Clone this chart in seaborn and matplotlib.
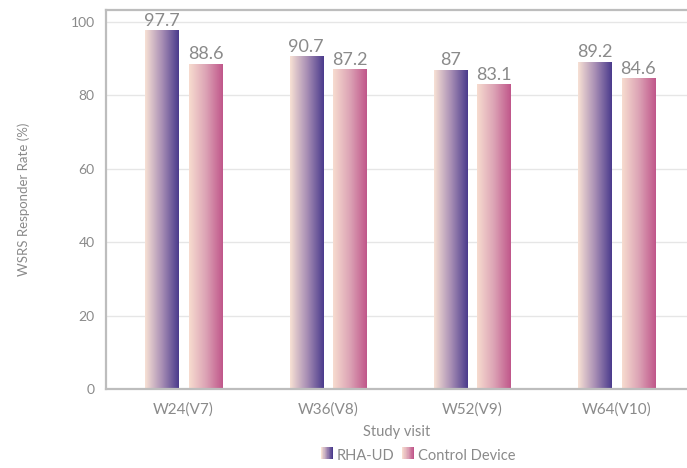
import numpy as np
import pandas as pd
import matplotlib
matplotlib.use("Agg")
import matplotlib.pyplot as plt
import seaborn as sns
from matplotlib.colors import LinearSegmentedColormap
from matplotlib.legend_handler import HandlerBase
from matplotlib.patches import Rectangle

visits = ["W24(V7)", "W36(V8)", "W52(V9)", "W64(V10)"]
rha_ud = [97.7, 90.7, 87, 89.2]
control = [88.6, 87.2, 83.1, 84.6]
groups = ["RHA-UD", "Control Device"]

df = pd.DataFrame({
    "visit": visits * 2,
    "rate": rha_ud + control,
    "group": [groups[0]] * 4 + [groups[1]] * 4,
})

cmaps = {
    "RHA-UD": LinearSegmentedColormap.from_list("rha", ["#f8e1d4", "#a98fb5", "#4a3a8c"]),
    "Control Device": LinearSegmentedColormap.from_list("ctl", ["#f7dccf", "#dca3b5", "#c0568a"]),
}
grey = "#8a8a8a"
font = "Lato"

sns.set_style("white")
plt.rcParams["font.family"] = [font, "DejaVu Sans"]

fig = plt.figure(figsize=(6.87, 4.68), dpi=100)
ax = fig.add_axes([0.154, 0.169, 0.846, 0.810])

sns.barplot(data=df, x="visit", y="rate", hue="group", hue_order=groups,
            width=0.604, gap=0.24, ax=ax, legend=False, palette=["#4a3a8c", "#c0568a"])

grad = np.linspace(0, 1, 256).reshape(1, -1)
for cont, g in zip(ax.containers, groups):
    for bar in cont:
        x0, y0 = bar.get_x(), bar.get_y()
        w, h = bar.get_width(), bar.get_height()
        im = ax.imshow(grad, cmap=cmaps[g], aspect="auto",
                       extent=[x0, x0 + w, y0, y0 + h], zorder=2)
        im.set_clip_path(bar)
        bar.set_facecolor("none")
        bar.set_edgecolor("none")
    ax.bar_label(cont, fmt="%g", padding=1, color=grey, fontsize=13)

ax.set_xlim(-0.54, 3.49)
ax.set_ylim(0, 103.3)
ax.set_yticks([0, 20, 40, 60, 80, 100])
ax.yaxis.grid(True, color="#e6e6e6", linewidth=1)
ax.set_axisbelow(True)
for s in ["left", "bottom", "top"]:
    ax.spines[s].set_color("#bdbdbd")
    ax.spines[s].set_linewidth(1.6)
ax.spines["right"].set_visible(False)
ax.tick_params(axis="y", colors=grey, labelsize=10, length=0, pad=8)
ax.tick_params(axis="x", colors=grey, labelsize=11, length=0, pad=10)
ax.set_xlabel("Study visit", color=grey, fontsize=10.5, labelpad=6)
ax.set_ylabel("WSRS Responder Rate (%)", color=grey, fontsize=9.5, labelpad=29)


class GradientHandler(HandlerBase):
    def create_artists(self, legend, orig_handle, xdescent, ydescent,
                       width, height, fontsize, trans):
        cmap = orig_handle.cmap
        n = 20
        arts = []
        for i in range(n):
            r = Rectangle((xdescent + width * i / n, ydescent), width / n + 0.2, height,
                          facecolor=cmap(i / (n - 1)), edgecolor="none", transform=trans)
            arts.append(r)
        return arts


class GradHandle:
    def __init__(self, cmap):
        self.cmap = cmap


handles = [GradHandle(cmaps[g]) for g in groups]
fig.legend(handles, groups, handler_map={GradHandle: GradientHandler()},
           loc="lower center", bbox_to_anchor=(0.609, -0.018), ncol=2, frameon=False,
           fontsize=10.5, labelcolor=grey, handlelength=0.8, handleheight=0.9,
           handletextpad=0.3, columnspacing=0.5)

fig.savefig("out.png", dpi=100)
